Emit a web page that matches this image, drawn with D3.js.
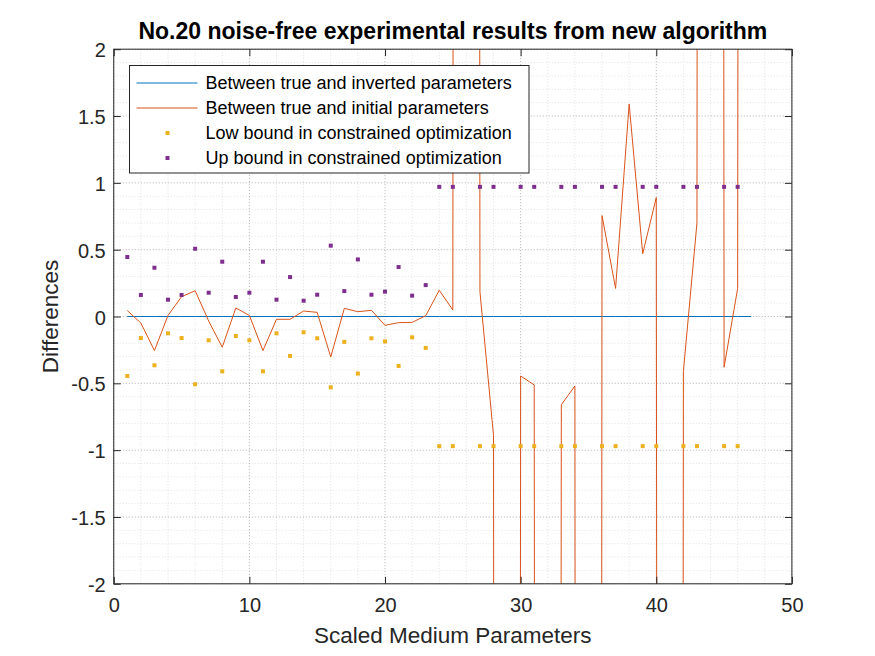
<!DOCTYPE html>
<html>
<head>
<meta charset="utf-8">
<script src="https://cdn.jsdelivr.net/npm/d3@7"></script>
<style>
  body { margin: 0; background: #fff; }
  text { font-family: Arial, "Liberation Sans", Helvetica, sans-serif; }
</style>
</head>
<body>
<svg id="chart" width="875" height="656"></svg>
<script>
// parameter index (x)
const params = [1, 2, 3, 4, 5, 6, 7, 8, 9, 10, 11, 12, 13, 14, 15, 16, 17, 18, 19, 20,
  21, 22, 23, 24, 25, 26, 27, 28, 29, 30, 31, 32, 33, 34, 35, 36, 37, 38, 39, 40,
  41, 42, 43, 44, 45, 46, 47];

// true - inverted
const invertedDiff = [0, 0, 0, 0, 0, 0, 0, 0, 0, 0, 0, 0, 0, 0, 0, 0, 0, 0, 0, 0,
  0, 0, 0, 0, 0, 0, 0, 0, 0, 0, 0, 0, 0, 0, 0, 0, 0, 0, 0, 0,
  0, 0, 0, 0, 0, 0, 0];

// true - initial (the huge ones run far off the axes)
const initialDiff = [0.044, -0.049, -0.255, 0.008, 0.148, 0.193, -0.034, -0.23, 0.064, 0.008,
  -0.255, -0.021, -0.021, 0.041, 0.031, -0.303, 0.061, 0.036, 0.046, -0.066,
  -0.046, -0.044, 0.006, 0.196, 0.049, 120, 0.186, -0.89, -110, -0.445,
  -0.512, -95, -0.66, -0.52, -130, 0.755, 0.21, 1.59, 0.47, 0.89,
  -100, -0.41, 0.70, 115, -0.38, 0.21, 90];

// bounds (null = unconstrained)
const lowBound = [-0.445, -0.161, -0.365, -0.126, -0.161, -0.507, -0.178, -0.41, -0.146, -0.178,
  -0.41, -0.126, -0.295, -0.118, -0.163, -0.53, -0.19, -0.427, -0.163, -0.186,
  -0.37, -0.156, -0.235, -0.97, -0.97, null, -0.97, -0.97, null, -0.97,
  -0.97, null, -0.97, -0.97, null, -0.97, -0.97, null, -0.97, -0.97,
  null, -0.97, -0.97, null, -0.97, -0.97, null];
const upBound = [0.445, 0.161, 0.365, 0.126, 0.161, 0.507, 0.178, 0.41, 0.146, 0.178,
  0.41, 0.126, 0.295, 0.118, 0.163, 0.53, 0.19, 0.427, 0.163, 0.186,
  0.37, 0.156, 0.235, 0.97, 0.97, null, 0.97, 0.97, null, 0.97,
  0.97, null, 0.97, 0.97, null, 0.97, 0.97, null, 0.97, 0.97,
  null, 0.97, 0.97, null, 0.97, 0.97, null];

const xTicks = [0, 10, 20, 30, 40, 50];
const yTicks = [-2, -1.5, -1, -0.5, 0, 0.5, 1, 1.5, 2];

const legendLabels = [
  "Between true and inverted parameters",
  "Between true and initial parameters",
  "Low bound in constrained optimization",
  "Up bound in constrained optimization"
];

const blue = "#0072BD", orange = "#D95319", yellow = "#EDB120", purple = "#7E2F8E";
const axisColor = "#262626";

const svg = d3.select("#chart");
const pLeft = 113.75, pRight = 791.9, pTop = 49.2, pBottom = 583.8;

const x = d3.scaleLinear().domain([0, 50]).range([pLeft, pRight]);
const y = d3.scaleLinear().domain([-2, 2]).range([pBottom, pTop]);

svg.append("rect").attr("width", 875).attr("height", 656).attr("fill", "#fff");

svg.append("defs").append("clipPath").attr("id", "plotClip")
  .append("rect")
  .attr("x", pLeft).attr("y", pTop)
  .attr("width", pRight - pLeft).attr("height", pBottom - pTop);

// Grid (minor + major, both dotted)
const grid = svg.append("g");
grid.selectAll(".minx").data(x.ticks(25)).enter().append("line")
  .attr("x1", d => x(d)).attr("x2", d => x(d)).attr("y1", pTop).attr("y2", pBottom)
  .attr("stroke", "#000").attr("stroke-opacity", 0.12).attr("stroke-dasharray", "1,2");
grid.selectAll(".miny").data(y.ticks(40)).enter().append("line")
  .attr("y1", d => y(d)).attr("y2", d => y(d)).attr("x1", pLeft).attr("x2", pRight)
  .attr("stroke", "#000").attr("stroke-opacity", 0.12).attr("stroke-dasharray", "1,2");
grid.selectAll(".majx").data(xTicks).enter().append("line")
  .attr("x1", d => x(d)).attr("x2", d => x(d)).attr("y1", pTop).attr("y2", pBottom)
  .attr("stroke", "#000").attr("stroke-opacity", 0.2).attr("stroke-dasharray", "1,2");
grid.selectAll(".majy").data(yTicks).enter().append("line")
  .attr("y1", d => y(d)).attr("y2", d => y(d)).attr("x1", pLeft).attr("x2", pRight)
  .attr("stroke", "#000").attr("stroke-opacity", 0.2).attr("stroke-dasharray", "1,2");

// Series
const plot = svg.append("g").attr("clip-path", "url(#plotClip)");

const line = d3.line().x((d, i) => x(params[i])).y(d => y(d));

plot.append("path").datum(invertedDiff)
  .attr("d", line).attr("fill", "none").attr("stroke", blue).attr("stroke-width", 1);

plot.append("path").datum(initialDiff)
  .attr("d", line).attr("fill", "none").attr("stroke", orange).attr("stroke-width", 1);

const ms = 4;
plot.selectAll(".low").data(params.map((p, i) => [p, lowBound[i]]).filter(d => d[1] !== null))
  .enter().append("rect")
  .attr("x", d => x(d[0]) - ms / 2).attr("y", d => y(d[1]) - ms / 2)
  .attr("width", ms).attr("height", ms).attr("fill", yellow);

plot.selectAll(".up").data(params.map((p, i) => [p, upBound[i]]).filter(d => d[1] !== null))
  .enter().append("rect")
  .attr("x", d => x(d[0]) - ms / 2).attr("y", d => y(d[1]) - ms / 2)
  .attr("width", ms).attr("height", ms).attr("fill", purple);

// Axes (ticks inside, box on)
const fmt = d => String(d);
const styleAxis = g => {
  g.select(".domain").remove();
  g.selectAll(".tick line").attr("stroke", axisColor);
  g.selectAll(".tick text").attr("fill", axisColor).style("font-size", "20px");
};

svg.append("g").attr("transform", `translate(0,${pBottom})`)
  .call(d3.axisBottom(x).tickValues(xTicks).tickFormat(fmt).tickSizeInner(-7).tickSizeOuter(0).tickPadding(14))
  .call(styleAxis);
svg.append("g").attr("transform", `translate(0,${pTop})`)
  .call(d3.axisTop(x).tickValues(xTicks).tickFormat("").tickSizeInner(-7).tickSizeOuter(0))
  .call(styleAxis);
svg.append("g").attr("transform", `translate(${pLeft},0)`)
  .call(d3.axisLeft(y).tickValues(yTicks).tickFormat(fmt).tickSizeInner(-7).tickSizeOuter(0).tickPadding(8))
  .call(styleAxis)
  .selectAll(".tick text").attr("dy", "0.38em");
svg.append("g").attr("transform", `translate(${pRight},0)`)
  .call(d3.axisRight(y).tickValues(yTicks).tickFormat("").tickSizeInner(-7).tickSizeOuter(0))
  .call(styleAxis);

svg.append("rect")
  .attr("x", pLeft).attr("y", pTop).attr("width", pRight - pLeft).attr("height", pBottom - pTop)
  .attr("fill", "none").attr("stroke", axisColor).attr("stroke-width", 1);

// Title and labels
svg.append("text")
  .attr("x", (pLeft + pRight) / 2).attr("y", 39)
  .attr("text-anchor", "middle").attr("fill", "#000")
  .style("font-size", "23px").style("font-weight", "bold")
  .text("No.20 noise-free experimental results from new algorithm");

svg.append("text")
  .attr("x", (pLeft + pRight) / 2).attr("y", 643)
  .attr("text-anchor", "middle").attr("fill", axisColor)
  .style("font-size", "22.5px")
  .text("Scaled Medium Parameters");

svg.append("text")
  .attr("transform", `translate(58,${(pTop + pBottom) / 2}) rotate(-90)`)
  .attr("text-anchor", "middle").attr("fill", axisColor)
  .style("font-size", "22.5px")
  .text("Differences");

// Legend
const legend = svg.append("g").attr("transform", "translate(129.5,65.5)");
legend.append("rect")
  .attr("width", 399.5).attr("height", 107.5)
  .attr("fill", "#fff").attr("stroke", axisColor).attr("stroke-width", 1);

const rowY = i => 17.5 + i * 25;
const items = legend.selectAll(".item").data(legendLabels).enter().append("g")
  .attr("transform", (d, i) => `translate(0,${rowY(i)})`);

items.append("text")
  .attr("x", 76).attr("dy", "0.35em")
  .attr("fill", "#000").style("font-size", "18px")
  .text(d => d);

items.filter((d, i) => i < 2).append("line")
  .attr("x1", 7).attr("x2", 68)
  .attr("stroke", (d, i) => [blue, orange][i]).attr("stroke-width", 1);

items.filter((d, i) => i >= 2).append("rect")
  .attr("x", 38 - ms / 2).attr("y", -ms / 2).attr("width", ms).attr("height", ms)
  .attr("fill", (d, i) => [yellow, purple][i]);
</script>
</body>
</html>
